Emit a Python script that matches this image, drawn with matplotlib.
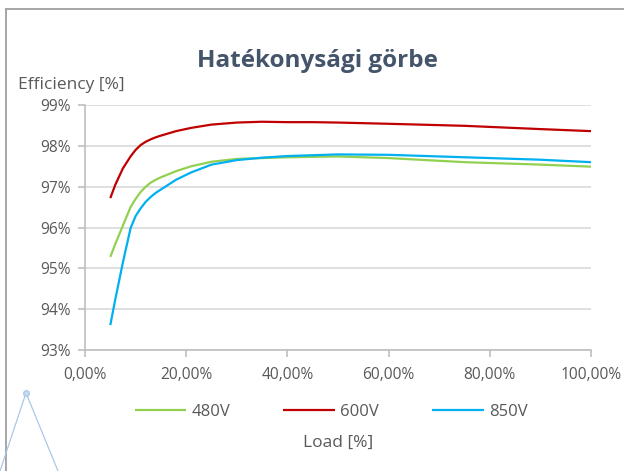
import numpy as np
import matplotlib
matplotlib.use("Agg")
import matplotlib.pyplot as plt
from matplotlib.lines import Line2D
from matplotlib.ticker import FuncFormatter

load_pct = [5, 6, 7.5, 9, 10, 11, 12, 13, 14, 15, 18, 21, 25, 30, 35, 40, 45, 50,
            60, 75, 90, 100]
eff_480 = [95.28, 95.60, 96.05, 96.50, 96.70, 96.87, 97.00, 97.10, 97.17, 97.23,
           97.38, 97.50, 97.61, 97.68, 97.70, 97.72, 97.73, 97.74, 97.70, 97.60,
           97.54, 97.49]
eff_600 = [96.72, 97.05, 97.45, 97.74, 97.90, 98.02, 98.10, 98.16, 98.21, 98.25,
           98.36, 98.44, 98.52, 98.57, 98.59, 98.58, 98.58, 98.57, 98.54, 98.49,
           98.41, 98.36]
eff_850 = [93.61, 94.25, 95.15, 95.98, 96.28, 96.47, 96.63, 96.75, 96.85, 96.93,
           97.17, 97.35, 97.54, 97.65, 97.71, 97.75, 97.77, 97.79, 97.78, 97.72,
           97.66, 97.60]
series_names = ["480V", "600V", "850V"]
series_colors = ["#92D050", "#C00000", "#00B0F0"]
x_ticks = [0, 20, 40, 60, 80, 100]
y_ticks = [93, 94, 95, 96, 97, 98, 99]

plt.rcParams["font.family"] = ["Open Sans", "DejaVu Sans"]
text_gray = "#595959"
W, H = 624, 471

fig = plt.figure(figsize=(W / 100, H / 100), dpi=100)
ax = fig.add_axes([85 / W, 1 - 350 / H, (591 - 85) / W, (350 - 105) / H])

for vals, name, col in zip([eff_480, eff_600, eff_850], series_names, series_colors):
    ax.plot(load_pct, vals, color=col, lw=1.6, label=name, solid_capstyle="butt",
            solid_joinstyle="round")

ax.set_xlim(0, 100)
ax.set_ylim(93, 99)
ax.set_xticks(x_ticks)
ax.set_yticks(y_ticks)
ax.xaxis.set_major_formatter(FuncFormatter(lambda v, p: f"{v:.2f}".replace(".", ",") + "%"))
ax.yaxis.set_major_formatter(FuncFormatter(lambda v, p: f"{v:.0f}%"))
ax.grid(axis="y", color="#D9D9D9", lw=1.2)
ax.set_axisbelow(True)
for s in ["top", "right"]:
    ax.spines[s].set_visible(False)
for s in ["left", "bottom"]:
    ax.spines[s].set_color("#BFBFBF")
    ax.spines[s].set_linewidth(1.2)
ax.tick_params(axis="both", colors="#BFBFBF", labelcolor=text_gray, labelsize=11.2,
               length=5, width=1.2)
ax.tick_params(axis="x", pad=7)
ax.tick_params(axis="y", pad=5)

fig.text(317 / W, 1 - 61 / H, "Hatékonysági görbe", ha="center", va="center",
         fontsize=17.5, fontweight="bold", color="#44546A")
fig.text(18 / W, 1 - 85 / H, "Efficiency [%]", ha="left", va="center",
         fontsize=12.5, color=text_gray)
fig.text(338 / W, 1 - 443 / H, "Load [%]", ha="center", va="center",
         fontsize=12.5, color=text_gray)

leg = fig.legend(loc="center", bbox_to_anchor=(331 / W, 1 - 412 / H), ncol=3,
                 frameon=False, fontsize=12, handlelength=3.1, handletextpad=0.3,
                 columnspacing=3.2)
for t in leg.get_texts():
    t.set_color(text_gray)

# chart frame and the stray shape in the corner
frame = "#A6A6A6"
fig.add_artist(Line2D([6 / W, 1], [1 - 9 / H] * 2, transform=fig.transFigure, color=frame, lw=1.4))
fig.add_artist(Line2D([6 / W] * 2, [0, 1 - 9 / H], transform=fig.transFigure, color=frame, lw=1.4))
shape = "#A9C8EA"
fig.add_artist(Line2D([0, 26 / W, 58 / W], [0, 1 - 393 / H, 0], transform=fig.transFigure,
                      color=shape, lw=0.9))
fig.add_artist(Line2D([26 / W], [1 - 393 / H], transform=fig.transFigure, marker="o",
                      ms=4, mfc="#C9DDF2", mec=shape, lw=0))

fig.savefig("out.png", dpi=100)
